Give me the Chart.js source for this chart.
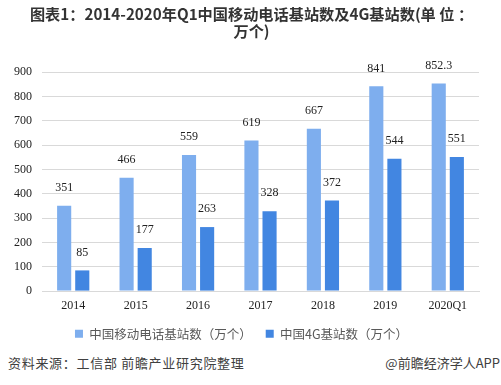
<!DOCTYPE html>
<html><head><meta charset="utf-8">
<script src="https://cdn.jsdelivr.net/npm/chart.js@4.4.0/dist/chart.umd.min.js"></script>
<style>
html,body{margin:0;padding:0;background:#fff;}
#wrap{position:relative;width:501px;height:385px;overflow:hidden;}
#box{position:absolute;left:0;top:0;width:501px;height:350px;}
#title{position:absolute;left:0;top:5px;width:501px;text-align:center;font-family:"Noto Sans CJK SC",sans-serif;font-size:15.2px;font-weight:bold;color:#333;line-height:17px;padding-left:2px;box-sizing:border-box;}
.src{position:absolute;top:353px;font-family:"Noto Sans CJK SC","Noto Sans",sans-serif;font-size:13px;color:#404040;white-space:nowrap;}
</style></head>
<body><div id="wrap"><div id="box"><canvas id="c"></canvas></div>
<div id="title"></div>
<div class="src" style="left:8px;letter-spacing:0.7px;">资料来源：工信部 前瞻产业研究院整理</div>
<div class="src" style="right:1px;">@前瞻经济学人APP</div>
</div>
<script>
const categories = ["2014","2015","2016","2017","2018","2019","2020Q1"];
const mobileStations = [351,466,559,619,667,841,852.3];
const stations4G = [85,177,263,328,372,544,551];
const seriesNames = ["中国移动电话基站数（万个）","中国4G基站数（万个）"];
const yTicks = [0,100,200,300,400,500,600,700,800,900];
const titleLines = ["图表1：2014-2020年Q1中国移动电话基站数及4G基站数(单 位 ：","万个)"];

const t = document.getElementById('title');
titleLines.forEach(s=>{const d=document.createElement('div');d.textContent=s;t.appendChild(d);});

const labelPlugin = {
  id:'labels',
  afterDatasetsDraw(chart){
    const ctx = chart.ctx;
    ctx.save();
    ctx.font = '12px "Liberation Serif", serif';
    ctx.fillStyle = '#222';
    ctx.textAlign = 'center';
    ctx.textBaseline = 'middle';
    chart.data.datasets.forEach((ds,i)=>{
      chart.getDatasetMeta(i).data.forEach((bar,j)=>{
        ctx.fillText(String(ds.data[j]), bar.x, bar.y - 18);
      });
    });
    ctx.restore();
  }
};

new Chart(document.getElementById('c'),{
  type:'bar',
  data:{labels:categories,datasets:[
    {label:seriesNames[0],data:mobileStations,backgroundColor:'#7eaeee',categoryPercentage:0.58,barPercentage:0.78},
    {label:seriesNames[1],data:stations4G,backgroundColor:'#4286e1',categoryPercentage:0.58,barPercentage:0.78}
  ]},
  options:{
    responsive:true,maintainAspectRatio:false,animation:false,
    layout:{padding:{left:4,right:22,top:72,bottom:0}},
    plugins:{
      title:{display:false},
      legend:{position:'bottom',labels:{boxWidth:8,boxHeight:8,padding:14,color:'#595959',font:{family:'"Noto Sans CJK SC",sans-serif',size:12.5}}},
      tooltip:{enabled:false}
    },
    scales:{
      x:{grid:{display:false},border:{display:true,color:'#d9d9d9'},ticks:{color:'#222',font:{family:'"Liberation Serif",serif',size:12},padding:0}},
      y:{min:0,max:900,afterBuildTicks(ax){ax.ticks=yTicks.map(v=>({value:v}));},
         grid:{color:'#d9d9d9',drawTicks:false},border:{display:false},
         ticks:{color:'#222',padding:10,font:{family:'"Liberation Serif",serif',size:12}}}
    }
  },
  plugins:[labelPlugin]
});
</script></body></html>
